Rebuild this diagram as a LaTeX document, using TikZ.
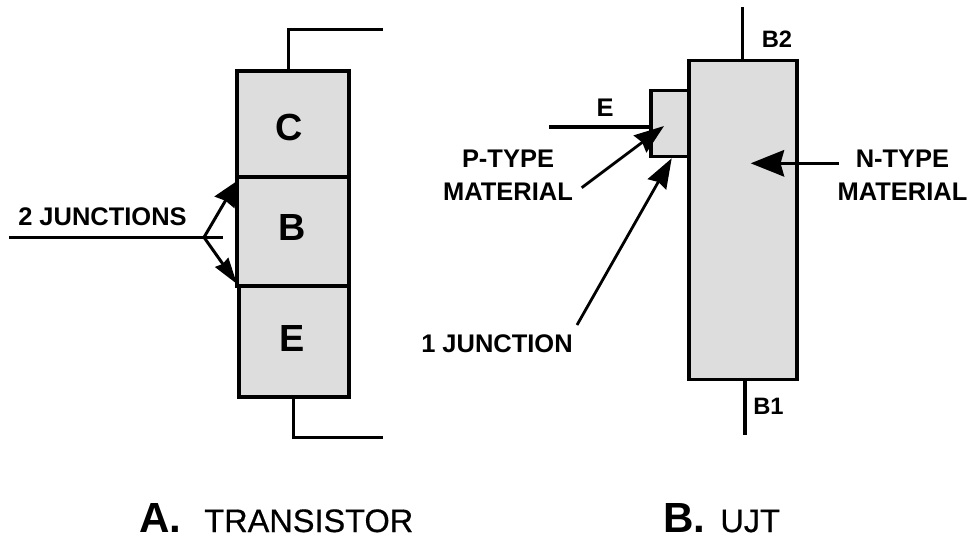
\documentclass[tikz,border=0pt]{standalone}
\usepackage{fontspec}
\setmainfont{Liberation Sans}
\newfontfamily\capfont[FakeBold=0.5]{Liberation Sans}
\usepackage{tikz}
\usetikzlibrary{arrows.meta}
\definecolor{clrFill}{HTML}{DCDDDC}
\tikzset{
  block/.style={rectangle, draw=black, fill=clrFill, line width=1.9pt, inner sep=0pt, outer sep=0pt},
  wire/.style={line width=1.8pt, black},
  pointer/.style={-{Stealth[length=17pt, width=12pt, inset=1.5pt]}, line width=1.6pt, black},
  fatpointer/.style={-{Stealth[length=14pt, width=13pt, inset=1pt]}, line width=1.7pt, black},
  slimpointer/.style={-{Stealth[length=15pt, width=9pt, inset=1pt]}, line width=1.7pt, black},
  bigpointer/.style={-{Stealth[length=19pt, width=15pt, inset=2pt]}, line width=1.9pt, black},
  lab/.style={font=\fontsize{14.5}{16}\selectfont\bfseries, align=center, inner sep=0pt},
  tag/.style={font=\fontsize{13.5}{16}\selectfont\bfseries, inner sep=0pt},
  letter/.style={font=\fontsize{21.5}{24}\selectfont\bfseries, inner sep=0pt},
  capletter/.style={font=\fontsize{24}{28}\selectfont\bfseries, anchor=base west, inner sep=0pt},
  captext/.style={font=\capfont\fontsize{18.5}{22}\selectfont, anchor=base west, inner sep=0pt},
}
\begin{document}
\begin{tikzpicture}[x=0.02cm, y=-0.02cm]
\useasboundingbox (0,0) rectangle (969,539);

% transistor
\node[block, minimum width=112*0.02cm, minimum height=106*0.02cm] (bC) at (293,124) {};
\node[block, minimum width=112*0.02cm, minimum height=109*0.02cm] (bB) at (293,231.5) {};
\node[block, minimum width=110*0.02cm, minimum height=111*0.02cm] (bE) at (294,341.5) {};
\node[letter] (lC) at (289.5,127.5) {C};
\node[letter] (lB) at (292.5,227.5) {B};
\node[letter] (lE) at (292,338) {E};

\coordinate (cT) at (383,29.3);
\coordinate (eT) at (383,437.7);
\coordinate (jL) at (9,237.3);
\coordinate (jR) at (222.7,237.3);
\coordinate (jS) at (204,237.3);
\coordinate (jA) at (237,181);
\coordinate (jB) at (237,284);
\draw[wire] (288.7,71) |- (cT);
\draw[wire] (293.3,397) |- (eT);
\draw[wire] (jL) -- (jR);
\draw[fatpointer] (jS) -- (jA);
\draw[slimpointer] (jS) -- (jB);
\node[lab] (jlab) at (102.5,217) {2 JUNCTIONS};

% ujt
\node[block, minimum width=38*0.02cm, minimum height=66*0.02cm] (bP) at (670,123.7) {};
\node[block, minimum width=108*0.02cm, minimum height=319*0.02cm] (bN) at (743,220) {};
\coordinate (b2) at (742.7,7);
\coordinate (b1) at (745,435);
\coordinate (ee) at (549,127);
\draw[wire] (b2) -- (bN.north -| b2);
\draw[wire] (bN.south -| b1) -- (b1);
\draw[wire] (ee) -- (bP.west |- ee);
\node[lab] (lE2) at (605,108) {E};
\node[tag] (lB2) at (777,39) {B2};
\node[tag] (lB1) at (768.5,406) {B1};
\node[lab] (pl) at (508,175) {P-TYPE\\[2.5pt]MATERIAL};
\node[lab] (nl) at (902.5,175) {N-TYPE\\[2.5pt]MATERIAL};
\node[lab] (ol) at (497,344) {1 JUNCTION};
\draw[pointer] (581.7,187.7) -- (664,126);
\draw[pointer] (577,325) -- (671.7,158.3);
\draw[bigpointer] (838.7,163.3) -- (750.7,163.3);

% captions
\node[capletter] (capA) at (139,532) {A.};
\node[captext] (capT) at (204,532) {TRANSISTOR};
\node[capletter] (capB) at (663,532) {B.};
\node[captext] (capU) at (720,532) {UJT};
\end{tikzpicture}
\end{document}
